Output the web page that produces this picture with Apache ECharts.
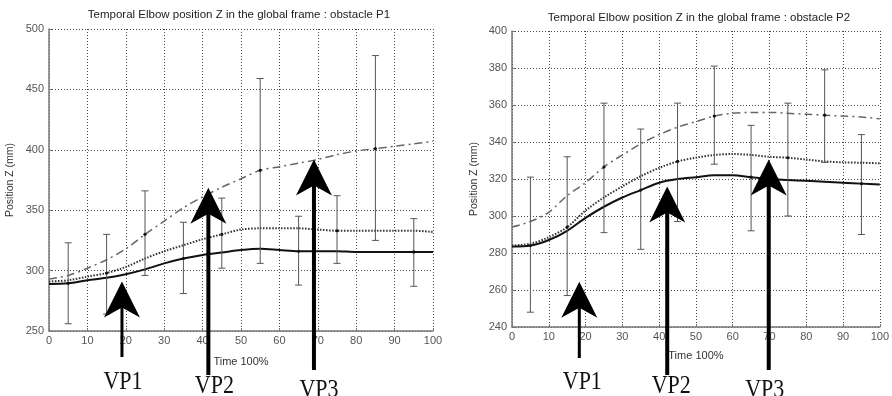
<!DOCTYPE html>
<html><head><meta charset="utf-8">
<script src="https://cdn.jsdelivr.net/npm/echarts@6/dist/echarts.min.js"></script>
<style>html,body{margin:0;padding:0;background:#fff}#c{width:892px;height:396px}</style>
</head><body><div id="c"></div>
<script>
// ---------- data ----------
const timeX = [0,5,10,15,20,25,30,35,40,45,50,55,60,65,70,75,80,85,90,95,100];

const p1Solid  = [289,289.5,292,294,297,301,306,310,313,315,317,318,317,316,316,316,315.5,315.5,315.5,315.5,315.5];
const p1Dotted = [291,292,295,298,303,310,316,321,326,330,334,335,335,335,334,333,333,333,333,333,332];
const p1Dashed = [293,296,302,309,318,330,341,352,361,369,376,383,386,389,392,396,399,401,403,405,407];

const p2Solid  = [283.5,284,287,292,299,305,310,314,318,320,321,322,322,321,320,319.5,319,318.5,318,317.5,317];
const p2Dotted = [284,285,288.5,294,303,310,316,321.5,326,329.5,331.5,333,333.5,333,332,331.5,330.5,329.5,329,328.8,328.5];
const p2Dashed = [294,297,302,311,318,326.5,333,339,344,348,351,354,355.5,356,356,355.5,355,354.5,354,353.5,352.5];

const errX    = [5,15,25,35,45,55,65,75,85,95];
const p1Low   = [256,264,296,281,302,306,288,306,325,287];
const p1High  = [323,330,366,340,360,459,345,362,478,343];
const p2Low   = [248,257,291,282,297,328,292,300,329,290];
const p2High  = [321,332,361,347,361,381,349,361,379,344];

const arrowLabels = ['VP1','VP2','VP3'];
const p1ArrowX   = [19, 41.5, 69];
const p1ArrowTip = [291, 368.5, 392];
const p2ArrowX   = [18.3, 42.2, 69.8];
const p2ArrowTip = [264.5, 316, 330.5];

const p1YTicks = [250,300,350,400,450,500];
const p2YTicks = [240,260,280,300,320,340,360,380,400];

const titles = ['Temporal Elbow position Z in the global frame : obstacle P1',
                'Temporal Elbow position Z in the global frame : obstacle P2'];

// ---------- chart ----------
const chart = echarts.init(document.getElementById('c'), null, {renderer:'canvas'});
const FONT = '"Liberation Sans", Arial, sans-serif';

function xAxis(gi, gap){
  return {gridIndex:gi, type:'value', min:0, max:100, interval:10,
    name:'Time 100%', nameLocation:'middle', nameGap:gap,
    nameTextStyle:{fontSize:11, color:'#333', fontFamily:FONT},
    axisLine:{show:true, onZero:false, lineStyle:{color:'#777', width:1.5}},
    axisTick:{show:true, inside:true, length:3, lineStyle:{color:'#777'}},
    axisLabel:{color:'#555', fontSize:11, margin:4, fontFamily:FONT},
    splitLine:{show:true, lineStyle:{type:[1,2], color:'#444', width:1}}};
}
function yAxis(gi, ticks, gap){
  return {gridIndex:gi, type:'value', min:ticks[0], max:ticks[ticks.length-1], interval:ticks[1]-ticks[0],
    name:'Position Z (mm)', nameLocation:'middle', nameGap:gap,
    nameTextStyle:{fontSize:10.5, color:'#333', fontFamily:FONT},
    axisLine:{show:true, onZero:false, lineStyle:{color:'#777', width:1.5}},
    axisTick:{show:true, inside:true, length:3, lineStyle:{color:'#777'}},
    axisLabel:{color:'#555', fontSize:11, margin:5, fontFamily:FONT},
    splitLine:{show:true, lineStyle:{type:[1,2], color:'#444', width:1}}};
}
function lineSeries(gi, vals, style){
  return {type:'line', xAxisIndex:gi, yAxisIndex:gi, data:timeX.map((x,i)=>[x, vals[i]]),
    showSymbol:false, smooth:0.3, silent:true, z:3, lineStyle:style};
}
const solidStyle  = {color:'#111', width:2, type:'solid'};
const dottedStyle = {color:'#333', width:2, type:[1.5,1.5]};
const dashedStyle = {color:'#666', width:1.5, type:[8,4,2,4]};

function errSeries(gi, lows, highs, lines){
  const data = errX.map((x,i)=>{
    const ln = lines[i % 3];
    const mean = ln[timeX.indexOf(x)];
    return [x, lows[i], highs[i], mean];
  });
  return {type:'custom', xAxisIndex:gi, yAxisIndex:gi, data, z:4, silent:true,
    encode:{x:0, y:1},
    renderItem(params, api){
      const x = api.value(0);
      const a = api.coord([x, api.value(1)]);
      const b = api.coord([x, api.value(2)]);
      const m = api.coord([x, api.value(3)]);
      const w = 3.5, st = {stroke:'#555', lineWidth:1};
      return {type:'group', children:[
        {type:'line', shape:{x1:a[0], y1:a[1], x2:b[0], y2:b[1]}, style:st},
        {type:'line', shape:{x1:a[0]-w, y1:a[1], x2:a[0]+w, y2:a[1]}, style:st},
        {type:'line', shape:{x1:b[0]-w, y1:b[1], x2:b[0]+w, y2:b[1]}, style:st},
        {type:'circle', shape:{cx:m[0], cy:m[1], r:1.6}, style:{fill:'#111'}}
      ]};
    }};
}
function arrowSeries(gi, xs, tips, bottoms, dxs){
  const data = xs.map((x,i)=>[x, tips[i], i]);
  return {type:'custom', xAxisIndex:gi, yAxisIndex:gi, data, z:10, silent:true, clip:false,
    encode:{x:0, y:1},
    renderItem(params, api){
      const i = api.value(2);
      const p = api.coord([api.value(0), api.value(1)]);
      const cx = p[0], ty = p[1];
      const sw = i === 0 ? 3 : 4;
      return {type:'group', children:[
        {type:'rect', shape:{x:cx-sw/2, y:ty+20, width:sw, height:bottoms[i]-ty-20}, style:{fill:'#000'}},
        {type:'polygon', shape:{points:[[cx,ty],[cx+18,ty+36],[cx,ty+26],[cx-18,ty+36]]}, style:{fill:'#000'}},
        {type:'text', x:cx+dxs[i], y:[371,375,379][i], scaleY:1.1,
          style:{text:arrowLabels[i], font:'22px "Liberation Serif", "Times New Roman", serif', fill:'#111', align:'center', verticalAlign:'top'}}
      ]};
    }};
}

chart.setOption({
  animation:false,
  backgroundColor:'#fff',
  grid:[
    {left:49, top:29, width:384, height:302, containLabel:false},
    {left:512, top:31, width:377, height:296, containLabel:false}
  ],
  xAxis:[xAxis(0, 25), xAxis(1, 23)],
  yAxis:[yAxis(0, p1YTicks, 33), yAxis(1, p2YTicks, 32)],
  graphic:[
    {type:'text', x:239, y:9, style:{text:titles[0], font:'11.5px '+FONT, fill:'#222', align:'center'}},
    {type:'text', x:699, y:12, style:{text:titles[1], font:'11.5px '+FONT, fill:'#222', align:'center'}}
  ],
  series:[
    lineSeries(0, p1Solid, solidStyle),
    lineSeries(0, p1Dotted, dottedStyle),
    lineSeries(0, p1Dashed, dashedStyle),
    errSeries(0, p1Low, p1High, [p1Solid, p1Dotted, p1Dashed]),
    arrowSeries(0, p1ArrowX, p1ArrowTip, [357, 375, 370], [1, 6, 5]),
    lineSeries(1, p2Solid, solidStyle),
    lineSeries(1, p2Dotted, dottedStyle),
    lineSeries(1, p2Dashed, dashedStyle),
    errSeries(1, p2Low, p2High, [p2Solid, p2Dotted, p2Dashed]),
    arrowSeries(1, p2ArrowX, p2ArrowTip, [358, 375, 370], [3, 4, -4])
  ]
});
</script>
</body></html>
